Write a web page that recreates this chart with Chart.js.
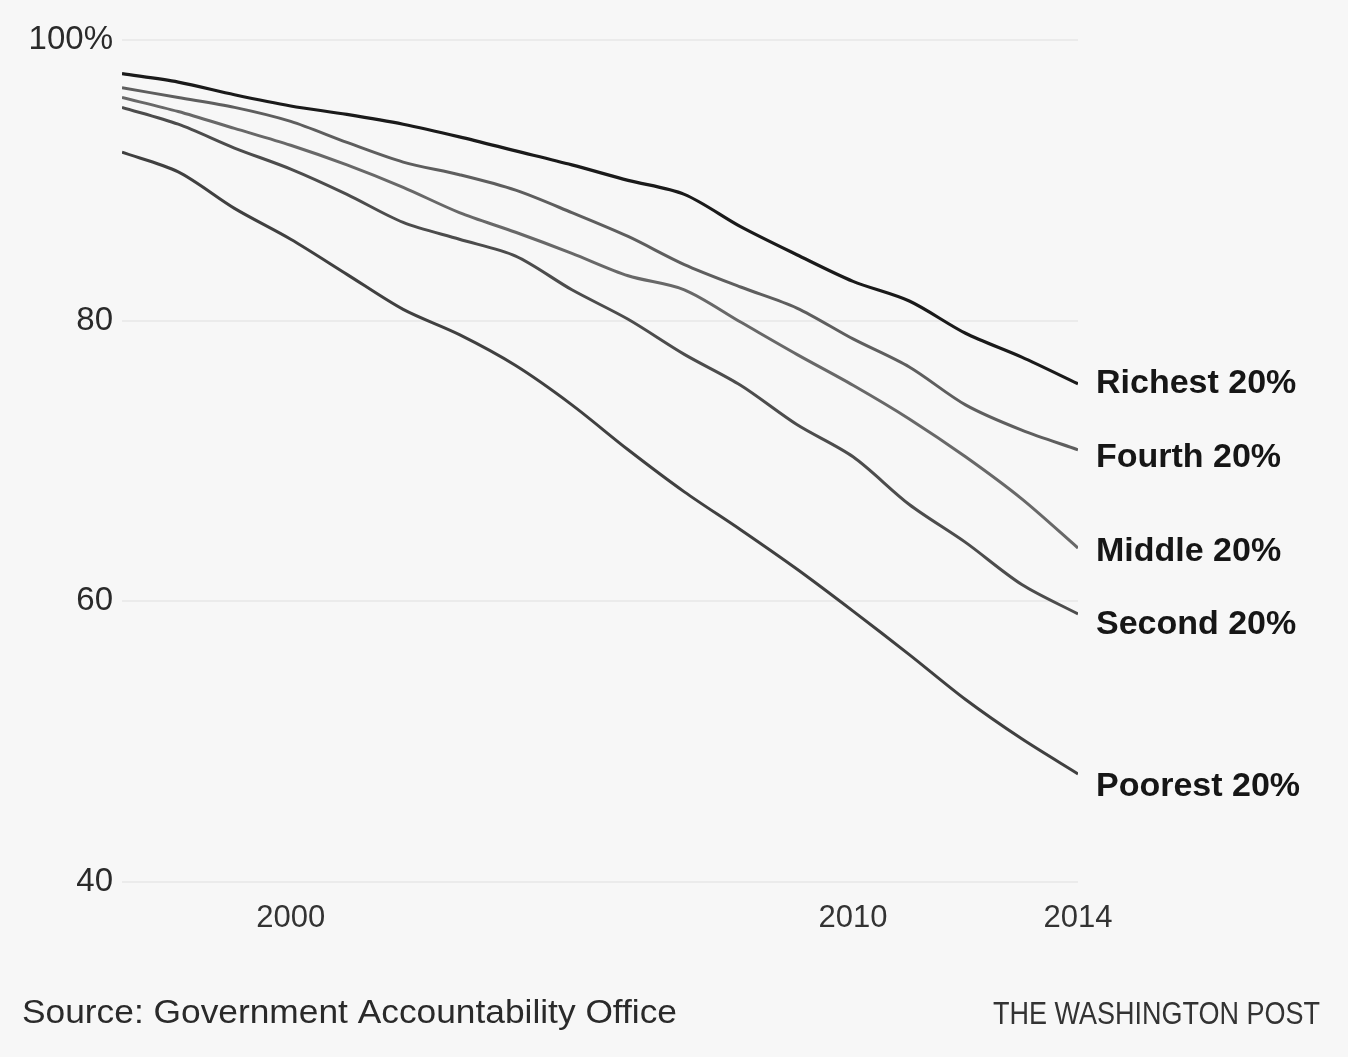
<!DOCTYPE html>
<html>
<head>
<meta charset="utf-8">
<script src="https://cdn.jsdelivr.net/npm/chart.js@4.4.1/dist/chart.umd.min.js"></script>
<style>
  html, body { margin: 0; padding: 0; background: #f7f7f7; }
  #wrap { position: relative; width: 1348px; height: 1057px; }
</style>
</head>
<body>
<div id="wrap"><canvas id="c" width="1348" height="1057"></canvas></div>
<script>
const years = [1997, 1998, 1999, 2000, 2001, 2002, 2003, 2004, 2005, 2006, 2007, 2008, 2009, 2010, 2011, 2012, 2013, 2014];
const richest = [97.6, 97.0, 96.1, 95.3, 94.7, 94.0, 93.1, 92.1, 91.1, 90.0, 89.0, 86.7, 84.7, 82.8, 81.4, 79.1, 77.4, 75.5];
const fourth  = [96.6, 95.9, 95.2, 94.2, 92.7, 91.3, 90.4, 89.3, 87.7, 86.0, 84.0, 82.4, 80.9, 78.7, 76.7, 74.0, 72.2, 70.8];
const middle  = [95.9, 94.9, 93.7, 92.5, 91.1, 89.5, 87.7, 86.3, 84.8, 83.2, 82.2, 79.9, 77.6, 75.4, 73.0, 70.3, 67.3, 63.8];
const second  = [95.2, 94.0, 92.3, 90.8, 89.0, 87.0, 85.8, 84.6, 82.2, 80.1, 77.6, 75.4, 72.6, 70.3, 66.9, 64.2, 61.2, 59.1];
const poorest = [92.0, 90.6, 88.0, 85.8, 83.3, 80.8, 79.0, 76.8, 74.0, 70.8, 67.8, 65.1, 62.3, 59.3, 56.2, 53.0, 50.2, 47.7];

const seriesNames = ["Richest 20%", "Fourth 20%", "Middle 20%", "Second 20%", "Poorest 20%"];
const seriesValues = [richest, fourth, middle, second, poorest];
const seriesColors = ["#1a1a1a", "#5e5e5e", "#686868", "#4c4c4c", "#404040"];
const seriesWidths = [3.2, 3, 3, 3, 3];
// value level at which each end label sits
const labelLevels = [75.5, 70.2, 63.5, 58.3, 46.8];

const xTickYears = [2000, 2010, 2014];
const yTickValues = [40, 60, 80, 100];

const sourceText = "Source: Government Accountability Office";
const creditText = "THE WASHINGTON POST";

const datasets = seriesNames.map((name, i) => ({
  label: name,
  data: years.map((yr, j) => ({ x: yr, y: seriesValues[i][j] })),
  borderColor: seriesColors[i],
  borderWidth: seriesWidths[i],
  pointRadius: 0,
  tension: 0.3,
  fill: false
}));

const endLabels = {
  id: 'endLabels',
  afterDatasetsDraw(chart) {
    const ctx = chart.ctx;
    const xs = chart.scales.x, ys = chart.scales.y;
    ctx.save();
    ctx.font = 'bold 33px "Liberation Sans", Arial, sans-serif';
    ctx.fillStyle = '#161616';
    ctx.textBaseline = 'middle';
    ctx.textAlign = 'left';
    seriesNames.forEach((name, i) => {
      const x = xs.getPixelForValue(years[years.length - 1]) + 18;
      const y = ys.getPixelForValue(labelLevels[i]);
      const w = ctx.measureText(name).width;
      ctx.save();
      ctx.translate(x, y);
      ctx.scale(1.03, 1);
      ctx.fillText(name, 0, 0);
      ctx.restore();
    });
    ctx.restore();
  }
};

function fitText(ctx, text, x, y, targetW, align) {
  const w = ctx.measureText(text).width;
  const s = targetW / w;
  ctx.save();
  ctx.translate(align === 'right' ? x - targetW : x, y);
  ctx.scale(s, 1);
  ctx.textAlign = 'left';
  ctx.fillText(text, 0, 0);
  ctx.restore();
}

const footer = {
  id: 'footer',
  afterDraw(chart) {
    const ctx = chart.ctx;
    ctx.save();
    ctx.textBaseline = 'middle';
    ctx.fillStyle = '#2a2a2a';
    ctx.font = '33px "Liberation Sans", Arial, sans-serif';
    fitText(ctx, sourceText, 22, 1014, 655, 'left');
    ctx.fillStyle = '#333333';
    ctx.font = '32px "Liberation Sans", Arial, sans-serif';
    fitText(ctx, creditText, 1320, 1015, 327, 'right');
    ctx.restore();
  }
};

new Chart(document.getElementById('c'), {
  type: 'line',
  data: { datasets },
  options: {
    responsive: false,
    animation: false,
    events: [],
    layout: { padding: { top: 40, right: 270, bottom: 0, left: 0 } },
    plugins: { legend: { display: false }, tooltip: { enabled: false }, title: { display: false } },
    scales: {
      x: {
        type: 'linear',
        min: years[0],
        max: years[years.length - 1],
        afterBuildTicks(scale) { scale.ticks = xTickYears.map(v => ({ value: v })); },
        afterFit(scale) { scale.height = 175; },
        grid: { display: false },
        border: { display: false },
        ticks: {
          autoSkip: false,
          maxRotation: 0,
          padding: 10,
          color: '#333333',
          font: { family: '"Liberation Sans", Arial, sans-serif', size: 31 },
          callback: v => String(v)
        }
      },
      y: {
        min: 40,
        max: 100,
        afterBuildTicks(scale) { scale.ticks = yTickValues.map(v => ({ value: v })); },
        afterFit(scale) { scale.width = 122; },
        grid: { color: '#ebebeb', lineWidth: 2, drawTicks: false },
        border: { display: false },
        ticks: {
          padding: 9,
          color: '#2a2a2a',
          font: { family: '"Liberation Sans", Arial, sans-serif', size: 33 },
          callback: v => (v === 100 ? '100%' : String(v))
        }
      }
    }
  },
  plugins: [endLabels, footer]
});
</script>
</body>
</html>
